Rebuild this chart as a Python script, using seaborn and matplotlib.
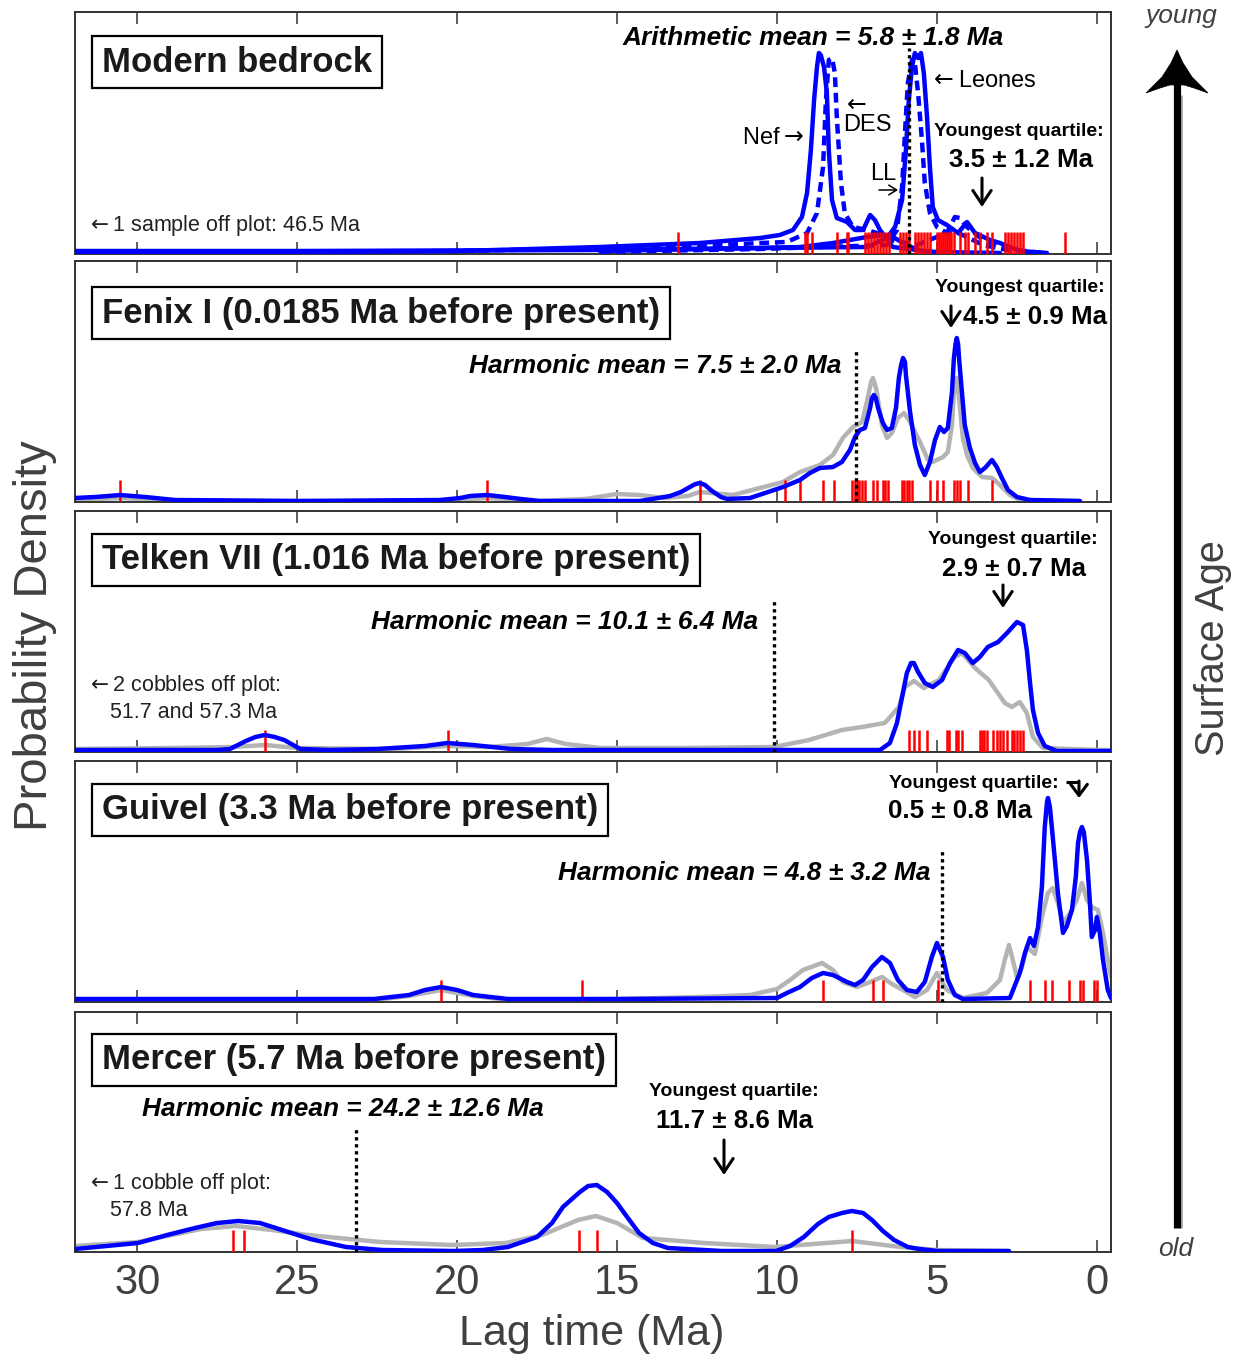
import matplotlib
matplotlib.use('Agg')
import matplotlib.pyplot as plt
import seaborn as sns
from matplotlib.patches import Polygon

# ---------------- data (ages in Ma, density in arbitrary units) ----------------
ticks_major = [30, 25, 20, 15, 10, 5, 0]

# Panel 1: Modern bedrock
p1_nef_age = [31.94, 24.91, 19.91, 15.53, 12.41, 10.53, 9.91, 9.50, 9.22, 9.06, 8.94, 8.84, 8.75, 8.69, 8.63,
              8.53, 8.44, 8.38, 8.28, 8.13, 7.81, 7.56, 7.31, 7.09, 6.94, 6.78, 6.38, 5.13, 3.03]
p1_nef_dens = [2, 2, 3, 7, 11, 16, 19, 24, 37, 61, 104, 154, 187, 201, 199,
               187, 161, 104, 54, 36, 32, 24, 24, 39, 34, 24, 7, 2, 1]
p1_des_age = [31.94, 19.91, 12.41, 10.53, 9.69, 9.06, 8.75, 8.56, 8.47, 8.38, 8.28, 8.19, 8.13, 8.00, 7.88,
              7.63, 7.19, 6.88, 6.47, 5.63, 4.69, 4.44, 4.28, 4.06, 3.56, 2.50, 1.69]
p1_des_dens = [2, 3, 8, 11, 12, 21, 41, 87, 154, 194, 196, 181, 137, 71, 41,
               27, 24, 21, 14, 9, 21, 37, 36, 27, 14, 4, 1]
p1_leones_age = [15.53, 10.53, 7.19, 6.56, 6.31, 6.09, 5.97, 5.88, 5.78, 5.69, 5.59, 5.50, 5.41, 5.31, 5.22,
                 5.13, 4.97, 4.69, 4.34, 4.06, 3.81, 3.34, 3.03, 2.41, 1.56]
p1_leones_dens = [3, 6, 7, 16, 27, 54, 104, 154, 187, 201, 196, 201, 181, 137, 87,
                  47, 34, 29, 21, 32, 21, 14, 11, 3, 1]
p1_ll_age = [15.53, 10.53, 6.56, 6.25, 6.09, 6.00, 5.91, 5.78, 5.69, 5.59, 5.47, 5.38, 5.22, 5.00, 4.69,
             4.34, 4.06, 3.56, 2.50]
p1_ll_dens = [2, 5, 9, 24, 67, 121, 171, 194, 191, 161, 114, 71, 41, 27, 21, 21, 17, 9, 2]
p1_broad_age = [31.94, 24.91, 15.53, 10.53, 9.28, 8.25, 7.19, 6.69, 6.38, 5.94, 5.53, 4.59]
p1_broad_dens = [3, 3, 4, 6, 7, 11, 17, 19, 17, 9, 3, 1]
p1_samples = [13.10, 9.12, 9.05, 8.90, 8.13, 7.81, 7.77, 7.25, 7.16, 7.06, 6.97, 6.88, 6.78, 6.69, 6.59,
              6.50, 6.16, 6.06, 5.97, 5.88, 5.69, 5.59, 5.50, 5.41, 5.31, 5.22, 5.00, 4.94, 4.88, 4.81,
              4.75, 4.69, 4.62, 4.56, 4.47, 4.28, 4.12, 4.03, 3.81, 3.66, 3.44, 3.28, 2.87, 2.78, 2.69,
              2.59, 2.50, 2.41, 2.31, 1.00]
p1_mean = 5.86

# Panel 2: Fenix I
p2_blue_age = [31.94, 31.31, 30.90, 30.53, 30.15, 29.75, 28.81, 24.91, 20.53, 19.90, 19.59, 19.06, 18.50, 18.00,
               17.41, 14.28, 13.34, 13.00, 12.72, 12.55, 12.41, 12.25, 12.03, 11.75, 11.56, 10.84, 9.81, 9.28,
               8.97, 8.66, 8.25, 7.97, 7.72, 7.56, 7.41, 7.25, 7.09, 7.03, 6.97, 6.91, 6.84, 6.69, 6.56, 6.41,
               6.28, 6.19, 6.12, 6.06, 6.00, 5.97, 5.84, 5.69, 5.53, 5.38, 5.22, 5.06, 4.91, 4.78, 4.66, 4.53,
               4.47, 4.42, 4.38, 4.34, 4.31, 4.22, 4.13, 3.97, 3.81, 3.66, 3.50, 3.28, 3.13, 2.97, 2.78, 2.50,
               2.09, 0.53]
p2_blue_dens = [4, 5, 6, 7, 6, 5, 2, 1, 2, 4, 6, 7, 5, 3,
                1, 1, 6, 10, 15, 18, 19, 17, 11, 5, 3, 4, 15, 22,
                29, 34, 35, 40, 52, 65, 72, 74, 94, 104, 107, 104, 94, 79, 72, 74,
                94, 124, 137, 144, 140, 127, 90, 57, 37, 27, 40, 62, 75, 70, 74, 110,
                144, 158, 164, 158, 144, 110, 77, 54, 39, 30, 34, 42, 35, 24, 12, 5,
                2, 1]
p2_gray_age = [31.94, 30.53, 28.81, 20.50, 19.06, 17.50, 16.00, 15.00, 14.30, 13.50, 12.80, 12.41, 11.38, 9.81,
               9.28, 8.66, 8.25, 7.94, 7.63, 7.34, 7.19, 7.06, 7.00, 6.94, 6.88, 6.72, 6.56, 6.41, 6.22, 6.03,
               5.84, 5.53, 5.28, 5.13, 4.81, 4.66, 4.53, 4.47, 4.42, 4.38, 4.31, 4.19, 4.06, 3.88, 3.59, 3.28,
               3.03, 2.72, 2.41, 0.53]
p2_gray_dens = [2, 4, 1, 1, 4, 1, 3, 8, 7, 4, 6, 10, 7, 20,
                30, 37, 47, 64, 75, 80, 100, 120, 124, 118, 110, 77, 64, 69, 84, 89,
                80, 60, 42, 40, 45, 50, 77, 110, 120, 124, 104, 64, 47, 34, 25, 24,
                17, 7, 2, 1]
p2_samples = [30.53, 19.06, 12.41, 9.75, 9.28, 8.56, 8.22, 7.66, 7.56, 7.50, 7.44, 7.34, 7.25, 7.00, 6.88,
              6.69, 6.63, 6.53, 6.09, 6.03, 5.94, 5.88, 5.78, 5.22, 5.00, 4.81, 4.47, 4.38, 4.28, 4.03, 3.28]
p2_mean = 7.53

# Panel 3: Telken VII
p3_blue_age = [31.94, 27.50, 27.10, 26.60, 26.30, 26.00, 25.70, 25.40, 24.90, 24.00, 22.50, 21.00, 20.30, 19.50,
               18.30, 17.00, 10.00, 6.78, 6.47, 6.25, 6.09, 5.94, 5.81, 5.72, 5.59, 5.38, 5.13, 4.84, 4.59,
               4.34, 4.13, 3.88, 3.66, 3.41, 3.09, 2.81, 2.50, 2.31, 2.19, 2.09, 2.00, 1.84, 1.63, 1.25, 0.00,
               -0.44]
p3_blue_dens = [2, 2, 3, 11, 15, 17, 15, 12, 3, 2, 3, 6, 9, 7,
                3, 2, 2, 2, 9, 29, 55, 79, 89, 89, 80, 69, 65, 72, 89,
                102, 99, 89, 95, 105, 110, 119, 130, 127, 102, 69, 42, 19, 6, 1, 1,
                1]
p3_gray_age = [31.94, 29.00, 27.00, 26.00, 25.00, 22.00, 20.30, 19.00, 17.80, 17.20, 16.60, 15.50, 13.00, 10.10,
               9.00, 7.97, 7.34, 6.63, 6.19, 6.00, 5.72, 5.41, 4.94, 4.44, 4.22, 3.81, 3.38, 2.88, 2.66,
               2.41, 2.19, 2.00, 1.69, 0.00, -0.44]
p3_gray_dens = [3, 4, 5, 7, 4, 3, 6, 5, 8, 13, 8, 4, 4, 5,
                12, 22, 25, 29, 45, 65, 71, 64, 72, 95, 99, 84, 72, 49, 45,
                50, 39, 15, 4, 2, 2]
p3_samples = [26.00, 20.28, 5.88, 5.72, 5.56, 5.31, 4.69, 4.63, 4.41, 4.34, 4.22, 3.66, 3.59, 3.53, 3.44,
              3.25, 3.13, 3.03, 2.94, 2.81, 2.66, 2.59, 2.50, 2.41, 2.31]
p3_mean = 10.09

# Panel 4: Guivel
p4_blue_age = [31.94, 22.60, 21.50, 21.00, 20.50, 20.00, 19.50, 18.40, 15.00, 10.00, 9.69, 9.28, 8.91, 8.56,
               8.25, 7.81, 7.56, 7.31, 7.03, 6.72, 6.47, 6.22, 5.94, 5.63, 5.38, 5.16, 5.00, 4.81, 4.66, 4.44,
               4.19, 2.72, 2.41, 2.25, 2.09, 1.97, 1.84, 1.72, 1.63, 1.56, 1.53, 1.47, 1.38, 1.22, 1.06,
               0.94, 0.78, 0.66, 0.59, 0.53, 0.47, 0.41, 0.31, 0.22, 0.16, 0.06, 0.00, -0.09, -0.19, -0.34,
               -0.44]
p4_blue_dens = [3, 3, 7, 12, 15, 12, 7, 3, 3, 4, 9, 15, 24, 29,
                27, 20, 17, 22, 35, 45, 39, 22, 12, 10, 20, 45, 59, 45, 22, 7,
                3, 4, 29, 49, 64, 56, 75, 115, 175, 200, 204, 195, 165, 109, 69,
                76, 92, 125, 159, 170, 175, 170, 142, 100, 65, 72, 85, 69, 42, 12,
                4]
p4_gray_age = [31.94, 22.60, 21.50, 20.50, 19.50, 18.40, 15.00, 12.41, 10.84, 10.00, 9.59, 9.19, 8.59, 8.25,
               7.94, 7.50, 7.09, 6.72, 6.41, 6.06, 5.69, 5.31, 5.00, 4.69, 4.19, 3.44, 3.03, 2.88, 2.75, 2.63,
               2.50, 2.34, 2.19, 1.94, 1.72, 1.53, 1.38, 1.22, 1.06, 0.84, 0.63, 0.47, 0.31, 0.16, -0.03,
               -0.19, -0.34, -0.44]
p4_gray_dens = [2, 2, 6, 12, 6, 2, 3, 5, 7, 13, 22, 32, 39, 32,
                20, 15, 20, 25, 18, 12, 5, 12, 29, 12, 4, 9, 22, 42, 57, 42,
                25, 35, 55, 48, 85, 109, 114, 99, 79, 89, 102, 119, 102, 95, 92,
                69, 42, 25]
p4_samples = [20.50, 16.09, 8.56, 7.00, 6.69, 4.97, 2.09, 1.63, 1.41, 0.88, 0.53, 0.44, 0.09, 0.00]
p4_mean = 4.83

# Panel 5: Mercer
p5_blue_age = [31.94, 29.97, 29.06, 28.19, 27.50, 26.84, 26.16, 25.47, 24.59, 23.47, 22.34, 20.09, 19.20, 18.41,
               17.50, 17.03, 16.69, 16.16, 15.90, 15.63, 15.31, 15.00, 14.66, 14.31, 13.88, 13.41, 11.72, 10.03,
               9.59, 9.16, 8.72, 8.38, 7.97, 7.66, 7.31, 7.03, 6.69, 6.34, 5.91, 5.56, 4.97, 2.75]
p5_blue_dens = [3, 9, 17, 24, 29, 31, 29, 22, 13, 5, 2, 1, 2, 5,
                15, 29, 45, 60, 66, 67, 60, 49, 34, 19, 9, 4, 1, 1,
                6, 15, 28, 35, 39, 41, 39, 32, 21, 12, 5, 3, 1, 1]
p5_gray_age = [31.94, 29.97, 28.00, 26.91, 25.78, 24.66, 22.41, 20.16, 18.47, 17.34, 16.22, 15.66, 15.00, 14.19,
               12.28, 10.06, 7.66, 6.13, 5.00, 2.75]
p5_gray_dens = [6, 10, 23, 26, 22, 17, 10, 7, 9, 17, 32, 36, 29, 14,
                9, 5, 11, 5, 2, 1]
p5_samples = [27.00, 26.66, 16.20, 15.64, 7.64]
p5_mean = 23.16

titles = ['Modern bedrock', 'Fenix I (0.0185 Ma before present)', 'Telken VII (1.016 Ma before present)',
          'Guivel (3.3 Ma before present)', 'Mercer (5.7 Ma before present)']

# ---------------- figure ----------------
sns.set_style('ticks')
plt.rcParams['font.family'] = ['Liberation Sans', 'DejaVu Sans']
plt.rcParams['mathtext.fontset'] = 'dejavusans'

W, H = 1243, 1358
fig = plt.figure(figsize=(W / 100, H / 100), dpi=100)

panel_px = [(12, 254), (261, 502), (511, 752), (761, 1002), (1012, 1252)]
mean_tops = [206, 152, 152, 154, 124]
left_px, right_px = 75, 1111

BLUE = '#0000ff'
GRAY = '#b4b4b4'
RED = '#ff0000'


def line(ax, age, dens, color, lw=3.2, ls='-', z=3):
    sns.lineplot(x=age, y=dens, ax=ax, color=color, linewidth=lw, linestyle=ls,
                 sort=False, estimator=None, zorder=z,
                 solid_joinstyle='round', dash_joinstyle='round')


axes = []
for i, (top, bot) in enumerate(panel_px):
    ax = fig.add_axes([left_px / W, 1 - bot / H, (right_px - left_px) / W, (bot - top) / H])
    axes.append(ax)

ax1, ax2, ax3, ax4, ax5 = axes
dash = (0, (2.2, 1.3))
# panel 1
line(ax1, p1_broad_age, p1_broad_dens, BLUE)
line(ax1, p1_nef_age, p1_nef_dens, BLUE)
line(ax1, p1_des_age, p1_des_dens, BLUE, ls=dash)
line(ax1, p1_leones_age, p1_leones_dens, BLUE)
line(ax1, p1_ll_age, p1_ll_dens, BLUE, ls=dash)
# panels 2-5
for ax, ga, gd, ba, bd in [(ax2, p2_gray_age, p2_gray_dens, p2_blue_age, p2_blue_dens),
                           (ax3, p3_gray_age, p3_gray_dens, p3_blue_age, p3_blue_dens),
                           (ax4, p4_gray_age, p4_gray_dens, p4_blue_age, p4_blue_dens),
                           (ax5, p5_gray_age, p5_gray_dens, p5_blue_age, p5_blue_dens)]:
    line(ax, ga, gd, GRAY, z=2)
    line(ax, ba, bd, BLUE, z=4)

samples = [p1_samples, p2_samples, p3_samples, p4_samples, p5_samples]
means = [p1_mean, p2_mean, p3_mean, p4_mean, p5_mean]
for i, ax in enumerate(axes):
    top, bot = panel_px[i]
    sns.rugplot(x=samples[i], ax=ax, height=22 / (bot - top), color=RED, linewidth=1.8,
                expand_margins=False, zorder=3)
    ax.vlines(means[i], 0, mean_tops[i], colors='black', linestyles=[(0, (1, 1.1))], linewidth=2.4, zorder=6)
    ax.set_xlim(31.94, -0.44)
    ax.set_ylim(0, bot - top)
    ax.set_xlabel('')
    ax.set_ylabel('')
    ax.set_yticks([])
    ax.set_xticks(ticks_major)
    for s in ax.spines.values():
        s.set_color('#333333')
        s.set_linewidth(1.4)
    ax.tick_params(axis='x', which='both', direction='in', top=True, bottom=True, length=8.5,
                   width=1.1, color='#333333', labelbottom=(i == 4), labelsize=30,
                   labelcolor='#404040', pad=8)

# ---------------- overlay for annotations ----------------
ov = fig.add_axes([0, 0, 1, 1], zorder=10)
ov.set_xlim(0, W)
ov.set_ylim(H, 0)
ov.axis('off')
ov.patch.set_alpha(0)

LA = r'$\leftarrow$'
RA = r'$\rightarrow$'

box = dict(boxstyle='square,pad=0.28', fc='white', ec='black', lw=1.6)
title_y = [62, 313, 560, 810, 1060]
for t, y in zip(titles, title_y):
    ov.text(102, y, t, fontsize=25, fontweight='bold', color='#1a1a1a', ha='left', va='center', bbox=box)

bi = dict(fontweight='bold', style='italic', color='black', ha='center', va='center', fontsize=18.9)
ov.text(813, 38, 'Arithmetic mean = 5.8 ± 1.8 Ma', **bi)
ov.text(655, 366, 'Harmonic mean = 7.5 ± 2.0 Ma', **bi)
ov.text(565, 622, 'Harmonic mean = 10.1 ± 6.4 Ma', **bi)
ov.text(744, 873, 'Harmonic mean = 4.8 ± 3.2 Ma', **bi)
ov.text(343, 1109, 'Harmonic mean = 24.2 ± 12.6 Ma', **bi)

yq = dict(fontweight='bold', color='black', ha='center', va='center', fontsize=14)
yv = dict(fontweight='bold', color='black', ha='center', va='center', fontsize=18.6)
ov.text(1019, 131, 'Youngest quartile:', **yq)
ov.text(1021, 160, '3.5 ± 1.2 Ma', **yv)
ov.text(1020, 287, 'Youngest quartile:', **yq)
ov.text(1035, 317, '4.5 ± 0.9 Ma', **yv)
ov.text(1013, 539, 'Youngest quartile:', **yq)
ov.text(1014, 569, '2.9 ± 0.7 Ma', **yv)
ov.text(974, 783, 'Youngest quartile:', **yq)
ov.text(960, 811, '0.5 ± 0.8 Ma', **yv)
ov.text(734, 1091, 'Youngest quartile:', **yq)
ov.text(735, 1121, '11.7 ± 8.6 Ma', **yv)

ap = dict(arrowstyle='->,head_length=0.45,head_width=0.3', lw=2.2, color='black',
          mutation_scale=22, shrinkA=0, shrinkB=0)
for x, y0, y1 in [(982, 178, 207), (951, 306, 328), (1003, 585, 608), (724, 1140, 1175)]:
    ov.annotate('', xy=(x, y1), xytext=(x, y0), arrowprops=ap)
ov.plot([1066, 1079], [782, 782], color='black', lw=2.2, solid_capstyle='butt')
ov.annotate('', xy=(1079, 798), xytext=(1079, 781),
            arrowprops=dict(arrowstyle='->,head_length=0.4,head_width=0.3', lw=2.2, color='black',
                            mutation_scale=20, shrinkA=0, shrinkB=0))
# small pointer arrow below "LL"
ov.annotate('', xy=(898, 190), xytext=(879, 190),
            arrowprops=dict(arrowstyle='->,head_length=0.35,head_width=0.22', lw=1.1, color='black',
                            mutation_scale=16, shrinkA=0, shrinkB=0))

lab = dict(fontsize=17, color='black', va='center')
ov.text(929, 81, LA + 'Leones', ha='left', **lab)
ov.text(804, 138, 'Nef' + RA, ha='right', **lab)
ov.text(842, 105, LA, ha='left', **lab)
ov.text(843, 125, 'DES', ha='left', **lab)
ov.text(870, 174, 'LL', ha='left', **lab)

note = dict(fontsize=15.5, color='#222222', va='center', ha='left')
ov.text(86, 226, LA + '1 sample off plot: 46.5 Ma', **note)
ov.text(86, 686, LA + '2 cobbles off plot:', **note)
ov.text(110, 712, '51.7 and 57.3 Ma', **note)
ov.text(86, 1184, LA + '1 cobble off plot:', **note)
ov.text(110, 1210, '57.8 Ma', **note)

# axis titles
ov.text(35, 636, 'Probability Density', rotation=90, fontsize=34, color='#404040', ha='center', va='center')
ov.text(592, 1334, 'Lag time (Ma)', fontsize=31, color='#404040', ha='center', va='center')
ov.text(1213, 648, 'Surface Age', rotation=90, fontsize=28.5, color='#404040', ha='center', va='center')
ov.text(1181, 16, 'young', style='italic', fontsize=19, color='#404040', ha='center', va='center')
ov.text(1176, 1249, 'old', style='italic', fontsize=19, color='#404040', ha='center', va='center')

# big arrow
ov.plot([1181.5, 1181.5], [95, 1228], color='#b0b0b0', lw=2.2, solid_capstyle='butt')
ov.plot([1177, 1177], [84, 1228], color='black', lw=5.2, solid_capstyle='butt')
head = Polygon([(1177, 50), (1171, 63), (1162, 77), (1146, 93), (1160, 88), (1170, 85), (1177, 85),
                (1184, 85), (1194, 88), (1208, 93), (1192, 77), (1183, 63)],
               closed=True, fc='black', ec='black', lw=0.5)
ov.add_patch(head)

fig.savefig('out.png', dpi=100)
